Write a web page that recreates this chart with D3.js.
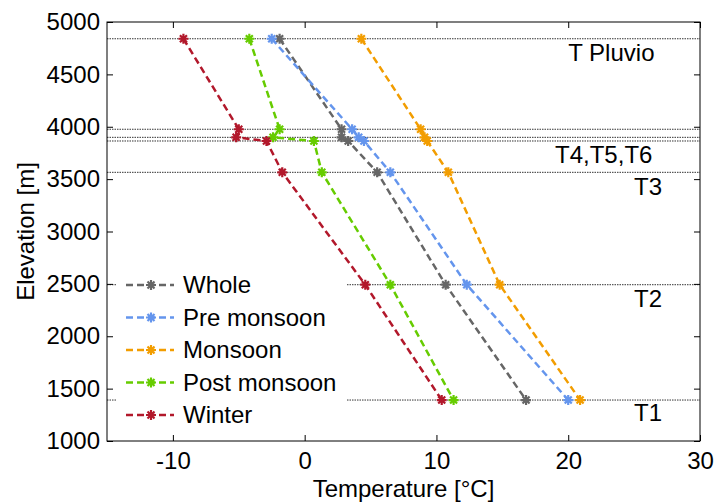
<!DOCTYPE html>
<html>
<head>
<meta charset="utf-8">
<script src="https://cdn.jsdelivr.net/npm/d3@7"></script>
<style>
  body { margin: 0; background: #fff; }
  svg text { font-family: "Liberation Sans", Arial, sans-serif; }
</style>
</head>
<body>
<div id="chart"></div>
<script>
// station elevations (m), top to bottom
const elevations = [4840, 3976, 3899, 3864, 3565, 2492, 1391];

const seasons = ['Whole', 'Pre monsoon', 'Monsoon', 'Post monsoon', 'Winter'];

// mean temperature (°C) at each station
const wholeTemp       = [-1.9, 2.8, 2.8, 3.3, 5.5, 10.7, 16.8];
const preMonsoonTemp  = [-2.5, 3.6, 4.1, 4.5, 6.5, 12.3, 20.0];
const monsoonTemp     = [4.3, 8.8, 9.1, 9.3, 10.9, 14.8, 20.9];
const postMonsoonTemp = [-4.2, -1.9, -2.4, 0.7, 1.3, 6.5, 11.3];
const winterTemp      = [-9.2, -5.0, -5.2, -2.9, -1.7, 4.6, 10.4];

const stationLabels = ['T Pluvio', 'T4,T5,T6', 'T3', 'T2', 'T1'];

const xTicks = [-10, 0, 10, 20, 30];
const yTicks = [1000, 1500, 2000, 2500, 3000, 3500, 4000, 4500, 5000];

class ProfileChart {
    constructor(_config) {
        this.config = {
            parentElement: _config.parentElement,
            containerWidth: 714,
            containerHeight: 502,
            margin: {top: 22, right: 14, bottom: 61, left: 107}
        };
        this.initVis();
    }

    initVis() {
        let vis = this;
        vis.width = vis.config.containerWidth - vis.config.margin.left - vis.config.margin.right;
        vis.height = vis.config.containerHeight - vis.config.margin.top - vis.config.margin.bottom;

        vis.svg = d3.select(vis.config.parentElement).append('svg')
            .attr('width', vis.config.containerWidth)
            .attr('height', vis.config.containerHeight);

        vis.chart = vis.svg.append('g')
            .attr('transform', `translate(${vis.config.margin.left},${vis.config.margin.top})`);

        vis.x = d3.scaleLinear().domain([-15, 30]).range([0, vis.width]);
        vis.y = d3.scaleLinear().domain([1000, 5000]).range([vis.height, 0]);
        vis.color = d3.scaleOrdinal()
            .domain(seasons)
            .range(['#666666', '#6495ed', '#f29d00', '#66cc00', '#b2182b']);

        vis.series = [wholeTemp, preMonsoonTemp, monsoonTemp, postMonsoonTemp, winterTemp]
            .map((temps, i) => ({
                name: seasons[i],
                values: temps.map((t, j) => ({temp: t, elev: elevations[j]}))
            }));

        vis.renderVis();
    }

    renderVis() {
        let vis = this;
        const fs = 24;

        // station lines
        vis.chart.selectAll('.station-line')
            .data(elevations)
            .enter().append('line')
            .attr('class', 'station-line')
            .attr('x1', vis.x(-15))
            .attr('x2', vis.x(30))
            .attr('y1', d => vis.y(d))
            .attr('y2', d => vis.y(d))
            .attr('stroke', '#333')
            .attr('stroke-width', 1)
            .attr('stroke-dasharray', '1.5,1');

        // station labels
        const labelTemp = [20, 19, 25, 25, 25];
        const labelElev = [4710, 3730, 3430, 2360, 1270];
        vis.chart.selectAll('.station-label')
            .data(stationLabels)
            .enter().append('text')
            .attr('class', 'station-label')
            .attr('x', (d, i) => vis.x(labelTemp[i]))
            .attr('y', (d, i) => vis.y(labelElev[i]))
            .attr('dy', '0.35em')
            .attr('font-size', fs)
            .text(d => d);

        const line = d3.line()
            .x(d => vis.x(d.temp))
            .y(d => vis.y(d.elev));

        const star = 'M-5,0L5,0M0,-5L0,5M-3.5,-3.5L3.5,3.5M-3.5,3.5L3.5,-3.5';

        const groups = vis.chart.selectAll('.series')
            .data(vis.series)
            .enter().append('g')
            .attr('class', 'series');

        groups.append('path')
            .attr('d', d => line(d.values))
            .attr('fill', 'none')
            .attr('stroke', d => vis.color(d.name))
            .attr('stroke-width', 2.5)
            .attr('stroke-dasharray', '7,4');

        groups.selectAll('.marker')
            .data(d => d.values.map(v => ({...v, name: d.name})))
            .enter().append('path')
            .attr('class', 'marker')
            .attr('transform', d => `translate(${vis.x(d.temp)},${vis.y(d.elev)})`)
            .attr('d', star)
            .attr('stroke', d => vis.color(d.name))
            .attr('stroke-width', 2.2);

        // legend (white box drawn over the lines, like matlab)
        const legend = vis.svg.append('g');
        legend.append('rect')
            .attr('x', 116).attr('y', 268)
            .attr('width', 231).attr('height', 164)
            .attr('fill', '#fff');
        const item = legend.selectAll('.item')
            .data(seasons)
            .enter().append('g')
            .attr('transform', (d, i) => `translate(126,${285 + i * 32.5})`);
        item.append('line')
            .attr('x1', 0).attr('x2', 48)
            .attr('stroke', d => vis.color(d))
            .attr('stroke-width', 2.5)
            .attr('stroke-dasharray', '7,4');
        item.append('path')
            .attr('transform', 'translate(25,0)')
            .attr('d', star)
            .attr('stroke', d => vis.color(d))
            .attr('stroke-width', 2.2);
        item.append('text')
            .attr('x', 57)
            .attr('dy', '0.35em')
            .attr('font-size', fs)
            .text(d => d);

        // axes, ticks inside on all four sides
        const plain = d => String(d);
        const axes = vis.chart.append('g');
        axes.append('g')
            .attr('transform', `translate(0,${vis.height})`)
            .call(d3.axisBottom(vis.x).tickValues(xTicks).tickFormat(plain)
                .tickSizeInner(-6).tickSizeOuter(0).tickPadding(11));
        axes.append('g')
            .call(d3.axisLeft(vis.y).tickValues(yTicks).tickFormat(plain)
                .tickSizeInner(-6).tickSizeOuter(0).tickPadding(7));
        axes.append('g')
            .call(d3.axisTop(vis.x).tickValues(xTicks).tickSizeInner(-6).tickSizeOuter(0).tickFormat(''));
        axes.append('g')
            .attr('transform', `translate(${vis.width},0)`)
            .call(d3.axisRight(vis.y).tickValues(yTicks).tickSizeInner(-6).tickSizeOuter(0).tickFormat(''));
        axes.selectAll('.domain').remove();
        axes.selectAll('text').attr('font-size', fs).attr('font-family', '"Liberation Sans", Arial, sans-serif').attr('fill', '#000');
        axes.selectAll('.tick line').attr('stroke', '#000');

        axes.append('rect')
            .attr('width', vis.width).attr('height', vis.height)
            .attr('fill', 'none')
            .attr('stroke', '#000')
            .attr('stroke-width', 1);

        // axis titles
        vis.svg.append('text')
            .attr('x', vis.config.margin.left + vis.width / 2)
            .attr('y', 497)
            .attr('text-anchor', 'middle')
            .attr('font-size', fs)
            .text('Temperature [°C]');

        vis.svg.append('text')
            .attr('transform', `translate(34,${vis.config.margin.top + vis.height / 2}) rotate(-90)`)
            .attr('text-anchor', 'middle')
            .attr('font-size', fs)
            .text('Elevation [m]');
    }
}

new ProfileChart({parentElement: '#chart'});
</script>
</body>
</html>
